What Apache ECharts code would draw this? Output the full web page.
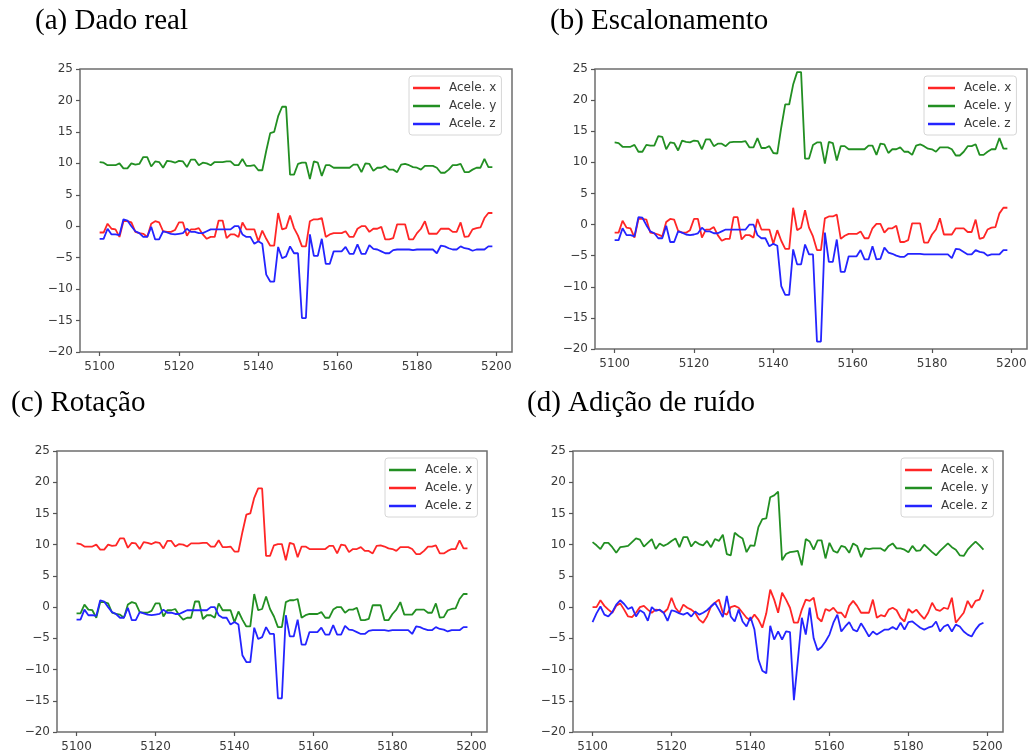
<!DOCTYPE html>
<html><head><meta charset="utf-8">
<script src="https://cdn.jsdelivr.net/npm/echarts@6/dist/echarts.min.js"></script>
<style>html,body{margin:0;padding:0;background:#fff}#c{width:1032px;height:755px}</style>
</head><body><div id="c"></div>
<script>
// ---- data (x = 5100 .. 5199, one value per sample) ----
const xStart = 5100;
const xTicks = [5100, 5120, 5140, 5160, 5180, 5200];
const panelTitles = ['(a) Dado real', '(b) Escalonamento', '(c) Rotação', '(d) Adição de ruído'];
const seriesNames = ['Acele. x', 'Acele. y', 'Acele. z'];

// (a) Dado real  (also shown in (c) Rotação, with colours exchanged)
const aX = [-1.0,-1.0,0.4,-0.4,-0.5,-1.7,0.8,0.8,0.6,-0.9,
  -1.1,-1.2,-1.7,0.4,0.8,0.6,-0.8,-0.9,-0.9,-0.6,
  0.6,0.6,-1.5,-0.5,-0.5,-0.3,-1.3,-2.0,-1.7,-1.7,
  0.9,0.9,-1.9,-1.3,-1.3,-1.7,0.6,-0.5,-0.5,-0.5,
  -2.4,-0.7,-2.0,-3.1,-3.1,2.1,-0.5,-0.3,1.7,-0.3,
  -1.5,-3.2,-3.2,0.8,1.1,1.1,1.3,-1.7,-1.3,-1.1,
  -1.1,-1.1,-0.8,-1.7,-1.7,-0.4,0.0,0.0,-0.9,-0.4,
  -0.4,-0.1,-2.1,-2.1,-1.9,0.3,0.3,0.3,-2.1,-2.1,
  -1.1,-0.4,0.8,-1.2,-1.2,-1.2,-0.4,-0.4,-0.4,-0.9,
  -0.9,0.6,-1.7,-1.6,-0.5,-0.3,-0.2,1.3,2.1,2.1];
const aY = [10.2,10.1,9.7,9.7,9.7,10.0,9.2,9.2,10.0,9.8,
  9.9,11.0,11.0,9.5,10.3,10.2,9.3,10.4,10.3,10.1,
  10.4,10.3,9.4,10.6,10.6,9.7,10.1,10.0,9.7,10.2,
  10.2,10.2,10.3,10.3,9.7,9.7,10.7,9.6,9.6,9.7,
  8.9,8.9,12.0,14.8,15.0,17.5,19.0,19.0,8.2,8.2,
  9.9,10.1,10.1,7.5,10.3,10.1,8.0,9.7,9.7,9.3,
  9.3,9.3,9.3,9.3,9.8,9.8,8.6,10.0,9.9,8.8,
  9.3,9.3,9.6,9.0,9.0,8.6,9.8,9.9,9.7,9.4,
  9.3,9.0,9.6,9.6,9.6,9.3,8.5,8.5,9.0,9.7,
  9.7,9.9,8.6,8.6,9.0,9.3,9.3,10.7,9.4,9.4];
const aZ = [-2.0,-2.0,-0.4,-1.3,-1.3,-1.4,1.1,0.9,0.0,-0.8,
  -1.1,-1.7,-1.7,-0.1,-2.1,-2.1,-0.8,-1.0,-1.2,-1.3,
  -1.2,-1.1,-0.4,-0.9,-0.9,-1.1,-1.1,-0.8,-0.5,-0.5,
  -0.5,-0.5,-0.5,-0.5,0.0,0.0,-1.3,-1.7,-1.7,-2.8,
  -2.4,-2.8,-7.7,-8.8,-8.8,-3.3,-5.1,-4.8,-3.2,-4.3,
  -4.3,-14.6,-14.6,-1.3,-4.7,-4.7,-2.0,-6.0,-6.0,-4.0,
  -4.0,-4.0,-3.3,-4.4,-4.4,-2.9,-4.4,-4.4,-3.0,-3.6,
  -3.7,-4.0,-4.3,-4.3,-3.8,-3.7,-3.7,-3.7,-3.7,-3.8,
  -3.7,-3.7,-3.7,-3.7,-3.7,-4.3,-3.1,-3.2,-3.5,-3.7,
  -3.7,-3.2,-3.5,-3.6,-3.9,-3.7,-3.7,-3.7,-3.2,-3.2];

// (b) Escalonamento
const bX = [-1.3,-1.3,0.6,-0.5,-0.6,-2.1,0.9,0.9,0.8,-1.3,
  -1.4,-1.6,-1.9,0.4,0.9,0.8,-1.0,-1.3,-1.3,-0.9,
  0.9,0.9,-2.1,-0.8,-0.8,-0.4,-1.7,-2.6,-2.3,-2.3,
  1.2,1.2,-2.4,-1.7,-1.7,-2.1,0.9,-0.8,-0.8,-0.8,
  -3.1,-0.9,-2.6,-3.9,-3.9,2.7,-0.9,-0.5,2.3,-0.5,
  -1.9,-4.1,-4.1,1.0,1.3,1.3,1.6,-2.3,-1.8,-1.5,
  -1.5,-1.5,-1.1,-2.2,-2.2,-0.6,0.1,0.1,-1.3,-0.6,
  -0.6,-0.2,-2.8,-2.8,-2.5,0.2,0.2,0.2,-2.9,-2.9,
  -1.6,-0.8,1.0,-1.6,-1.6,-1.6,-0.6,-0.6,-0.6,-1.2,
  -1.2,0.8,-2.3,-2.1,-0.8,-0.5,-0.4,1.8,2.7,2.7];
const bY = [13.2,13.1,12.5,12.5,12.5,12.8,11.7,11.7,12.8,12.7,
  12.7,14.2,14.1,12.1,13.2,13.1,11.9,13.5,13.3,13.2,
  13.5,13.4,12.1,13.7,13.7,12.6,13.0,13.0,12.6,13.2,
  13.3,13.3,13.3,13.4,12.4,12.4,13.9,12.3,12.3,12.6,
  11.5,11.4,15.6,19.3,19.3,22.5,24.5,24.5,10.6,10.6,
  12.8,13.2,13.2,9.8,13.3,13.1,10.3,12.6,12.6,12.1,
  12.1,12.1,12.1,12.1,12.7,12.7,11.2,13.0,12.9,11.5,
  12.1,12.1,12.4,11.7,11.7,11.2,12.7,12.9,12.6,12.2,
  12.1,11.7,12.4,12.4,12.4,12.1,11.1,11.1,11.7,12.6,
  12.6,12.9,11.2,11.2,11.7,12.1,12.1,13.9,12.2,12.2];
const bZ = [-2.5,-2.5,-0.6,-1.7,-1.7,-1.9,1.2,1.1,-0.1,-1.1,
  -1.4,-2.2,-2.2,-0.2,-2.8,-2.8,-1.1,-1.3,-1.6,-1.7,
  -1.6,-1.4,-0.5,-1.1,-1.1,-1.4,-1.4,-1.1,-0.8,-0.8,
  -0.8,-0.8,-0.8,-0.8,0.0,0.0,-1.7,-2.2,-2.2,-3.5,
  -3.1,-3.4,-9.9,-11.3,-11.3,-4.0,-6.4,-6.4,-3.2,-4.8,
  -4.8,-18.8,-18.8,-1.3,-6.0,-6.0,-2.4,-7.6,-7.6,-5.1,
  -5.1,-5.1,-4.1,-5.6,-5.6,-3.5,-5.6,-5.5,-3.7,-4.5,
  -4.7,-5.0,-5.2,-5.2,-4.7,-4.7,-4.7,-4.7,-4.8,-4.8,
  -4.8,-4.8,-4.8,-4.8,-4.8,-5.4,-3.9,-4.0,-4.4,-4.8,
  -4.8,-4.1,-4.4,-4.5,-5.0,-4.8,-4.8,-4.8,-4.1,-4.1];

// (d) Adição de ruído
const dX = [0.0,0.0,1.1,0.2,-0.4,-0.9,0.2,0.6,-0.4,-1.5,
  -1.6,-0.9,0.0,0.2,-0.4,-0.9,-0.4,-0.5,-0.9,-0.3,
  1.5,-0.1,-0.9,0.4,-0.1,-0.4,-0.9,-2.0,-2.5,-1.5,
  0.1,0.7,1.2,-0.9,-1.2,0.0,0.2,-0.1,-0.9,-1.7,
  -2.1,-1.2,-2.0,-3.3,-1.0,2.8,1.2,-0.9,2.3,1.2,
  -0.1,-2.5,-2.5,-0.4,1.2,1.0,1.5,-1.7,-2.3,-0.3,
  -0.6,-0.1,-0.9,-0.9,-1.7,0.2,1.0,0.2,-0.9,-0.9,
  -0.9,1.2,-1.7,-1.3,-1.5,-0.4,-0.1,-0.5,-1.7,-2.3,
  -0.3,-0.9,-0.4,-1.2,-1.9,-0.9,0.7,-0.4,-0.6,-0.1,
  -0.3,1.5,-2.5,-1.7,-0.9,1.0,-0.1,1.0,1.2,2.8];
const dY = [10.4,9.9,9.3,10.3,10.3,9.6,8.7,9.6,9.7,9.8,
  10.4,11.0,10.8,9.7,10.3,10.9,9.3,10.2,9.8,10.1,
  10.6,11.0,9.6,11.2,11.2,9.7,10.5,10.1,9.9,10.6,
  9.6,10.9,10.6,11.6,8.5,8.3,11.9,11.4,11.0,8.8,
  9.9,9.8,12.8,14.1,14.2,17.6,17.9,18.5,7.5,8.5,
  8.8,8.9,9.0,6.7,10.9,10.5,9.2,10.7,10.7,7.8,
  10.3,9.0,8.7,9.8,9.6,8.7,10.2,9.8,8.0,9.4,
  9.3,9.4,9.4,9.4,9.0,9.8,10.2,9.4,9.4,9.2,
  8.8,9.8,9.0,9.1,10.0,9.4,8.8,8.3,9.0,9.6,
  10.2,9.6,9.2,8.3,8.2,9.2,9.9,10.5,9.9,9.2];
const dZ = [-2.4,-1.0,0.1,-1.2,-1.5,-0.8,0.4,1.1,0.5,-0.3,
  0.0,-1.5,-0.5,-0.9,-2.2,0.0,-0.6,-0.4,-0.9,-2.2,
  -0.5,-0.7,-1.0,-1.2,-0.9,-1.5,-0.7,-1.2,-0.9,-0.5,
  0.1,0.7,-0.4,-1.6,1.8,-1.5,-2.3,-0.4,-2.3,-3.1,
  -1.6,-3.6,-8.4,-10.2,-10.6,-3.0,-5.2,-3.9,-5.2,-3.9,
  -4.0,-14.9,-8.5,-1.7,-4.4,-0.1,-5.0,-6.9,-6.4,-5.5,
  -4.4,-2.5,-1.2,-3.9,-3.1,-2.4,-3.6,-3.9,-2.6,-3.6,
  -4.7,-3.9,-4.4,-4.0,-3.6,-3.6,-3.2,-3.6,-2.5,-3.6,
  -2.4,-2.3,-2.8,-3.3,-3.6,-3.3,-3.1,-2.3,-3.9,-3.1,
  -2.8,-3.9,-2.8,-3.1,-3.9,-4.4,-4.7,-3.6,-2.8,-2.5];

// ---- presentation ----
const RED = '#ff2626', GREEN = '#228f22', BLUE = '#2424ff';
const panels = [
  { title: panelTitles[0], tx: 35, ty: 7,   grid: {left: 80,  top: 69,  width: 432, height: 283}, leg: {left: 409, top: 76},  data: [aX, aY, aZ], colors: [RED, GREEN, BLUE] },
  { title: panelTitles[1], tx: 550, ty: 7,  grid: {left: 595, top: 69,  width: 432, height: 280}, leg: {left: 924, top: 76},  data: [bX, bY, bZ], colors: [RED, GREEN, BLUE] },
  { title: panelTitles[2], tx: 11, ty: 389, grid: {left: 57,  top: 451, width: 430, height: 281}, leg: {left: 385, top: 458}, data: [aX, aY, aZ], colors: [GREEN, RED, BLUE] },
  { title: panelTitles[3], tx: 527, ty: 389,grid: {left: 573, top: 451, width: 430, height: 281}, leg: {left: 901, top: 458}, data: [dX, dY, dZ], colors: [RED, GREEN, BLUE] }
];

const FONT = 'DejaVu Sans';
const option = { animation: false, backgroundColor: '#fff',
  title: [], grid: [], xAxis: [], yAxis: [], legend: [], series: [] };

panels.forEach((p, i) => {
  option.title.push({ text: p.title, left: p.tx, top: p.ty, padding: 0,
    textStyle: { fontFamily: 'Liberation Serif', fontSize: 29, fontWeight: 'normal', color: '#000' } });
  option.grid.push(Object.assign({ show: true, borderColor: '#6e6e6e', borderWidth: 1.5, backgroundColor: '#fff' }, p.grid));
  option.xAxis.push({ gridIndex: i, type: 'value', min: 5095.05, max: 5203.95, position: 'bottom',
    axisLine: { show: false, onZero: false },
    axisTick: { show: true, length: 4, customValues: xTicks, lineStyle: { color: '#555', width: 1.2 } },
    axisLabel: { customValues: xTicks, margin: 9, fontFamily: FONT, fontSize: 12, color: '#3a3a3a',
      formatter: v => String(v) },
    splitLine: { show: false } });
  option.yAxis.push({ gridIndex: i, type: 'value', min: -20, max: 25, interval: 5, position: 'left',
    axisLine: { show: false, onZero: false },
    axisTick: { show: true, length: 4, lineStyle: { color: '#555', width: 1.2 } },
    axisLabel: { margin: 7, fontFamily: FONT, fontSize: 12, color: '#3a3a3a',
      formatter: v => String(v).replace('-', '\u2212') },
    splitLine: { show: false } });
  option.legend.push({ left: p.leg.left, top: p.leg.top, orient: 'vertical',
    padding: [6, 5, 5, 4], itemGap: 6, itemWidth: 27, itemHeight: 2.5, icon: 'rect',
    backgroundColor: 'rgba(255,255,255,0.85)', borderColor: '#d6d6d6', borderWidth: 1, borderRadius: 3,
    selectedMode: false,
    textStyle: { fontFamily: FONT, fontSize: 12, color: '#3a3a3a', padding: [0, 0, 0, 4] },
    data: seriesNames.map((n, k) => ({ name: n, itemStyle: { color: p.colors[k] }, lineStyle: { color: p.colors[k] } })) });
  p.data.forEach((vals, k) => {
    option.series.push({ type: 'line', name: seriesNames[k], xAxisIndex: i, yAxisIndex: i,
      symbol: 'none', smooth: false, z: 2 + (k === 2 ? 1 : 0),
      lineStyle: { width: 1.8, color: p.colors[k] }, itemStyle: { color: p.colors[k] },
      data: vals.map((v, j) => [xStart + j, v]) });
  });
});

const chart = echarts.init(document.getElementById('c'), null, { renderer: 'canvas' });
chart.setOption(option);
</script></body></html>
